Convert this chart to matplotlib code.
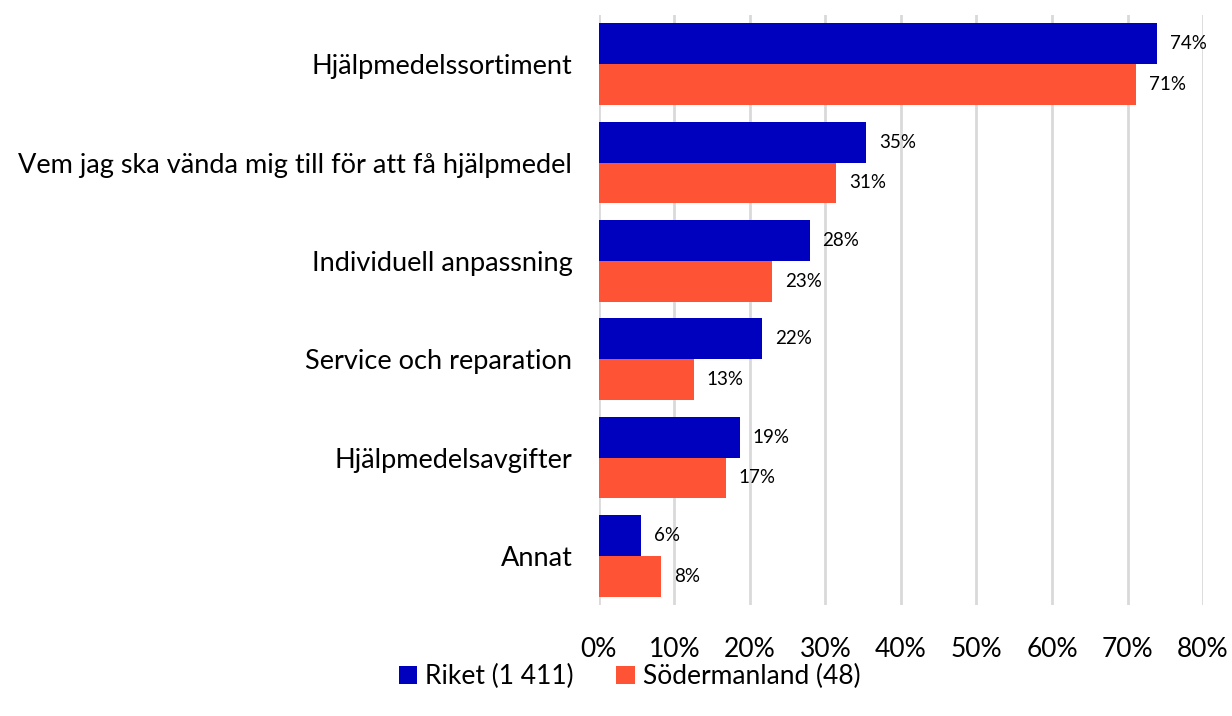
import matplotlib.pyplot as plt
import numpy as np

categories = [
    "Hjälpmedelssortiment",
    "Vem jag ska vända mig till för att få hjälpmedel",
    "Individuell anpassning",
    "Service och reparation",
    "Hjälpmedelsavgifter",
    "Annat",
]
riket = [73.9, 35.4, 27.9, 21.6, 18.7, 5.6]
sodermanland = [71.1, 31.4, 23.0, 12.6, 16.8, 8.3]
series_names = ["Riket (1 411)", "Södermanland (48)"]
xticks = [0, 10, 20, 30, 40, 50, 60, 70, 80]


def main():
    plt.rcParams["font.family"] = ["Lato", "DejaVu Sans"]
    fig = plt.figure(figsize=(12.32, 7.16), dpi=100)
    ax = fig.add_axes([0.486, 0.155, 0.4905, 0.824])

    y = np.arange(len(categories))
    h = 0.415
    b1 = ax.barh(y - h / 2, riket, height=h, color="#0000BF", label=series_names[0], zorder=3)
    b2 = ax.barh(y + h / 2, sodermanland, height=h, color="#FF5335", label=series_names[1], zorder=3)

    # data labels
    for bars, vals in [(b1, riket), (b2, sodermanland)]:
        for bar, v in zip(bars, vals):
            ax.text(v + 1.7, bar.get_y() + bar.get_height() / 2, f"{round(v)}%",
                    va="center", ha="left", fontsize=13.5, color="#000000")

    ax.set_ylim(len(categories) - 0.5, -0.5)
    ax.set_xlim(0, 80)
    ax.set_yticks(y)
    ax.set_yticklabels(categories, fontsize=19.5)
    ax.set_xticks(xticks)
    ax.set_xticklabels([f"{t}%" for t in xticks], fontsize=19)
    ax.tick_params(axis="both", length=0)
    ax.tick_params(axis="y", pad=19)
    ax.tick_params(axis="x", pad=23)
    ax.grid(axis="x", color="#D9D9D9", linewidth=2, zorder=0)
    for s in ax.spines.values():
        s.set_visible(False)

    fig.legend(handles=[b1, b2], loc="center", bbox_to_anchor=(0.511, 0.055), ncol=2,
               frameon=False, fontsize=19, handlelength=0.7, handleheight=0.7,
               handletextpad=0.3, columnspacing=1.6)

    fig.savefig("out.png", dpi=100)


if __name__ == "__main__":
    main()
